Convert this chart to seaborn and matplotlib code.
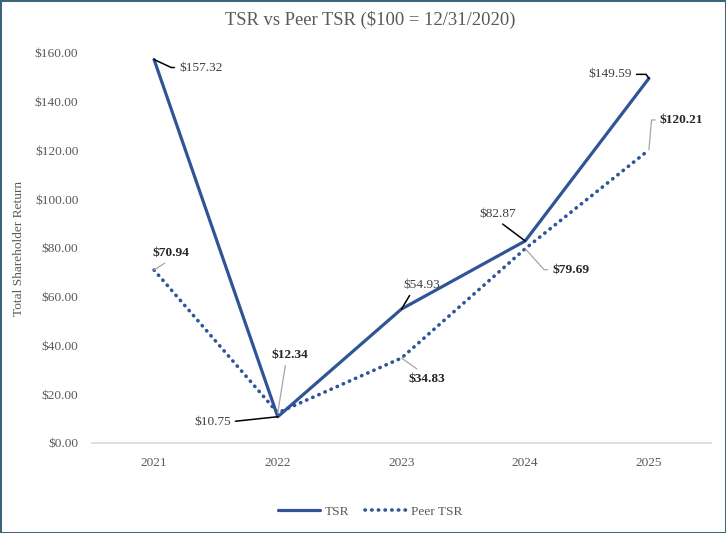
import numpy as np
import pandas as pd
import matplotlib
matplotlib.use("Agg")
import matplotlib.pyplot as plt
import seaborn as sns
from matplotlib.patches import Rectangle

years = ["2021", "2022", "2023", "2024", "2025"]
tsr = [157.32, 10.75, 54.93, 82.87, 149.59]
peer = [70.94, 12.34, 34.83, 79.69, 120.21]
yticks = [0, 20, 40, 60, 80, 100, 120, 140, 160]

sns.set_theme(style="white")
plt.rcParams["font.family"] = ["Liberation Serif", "DejaVu Serif"]

blue = "#2F5597"
grey_txt = "#595959"

df = pd.DataFrame({"Year": years * 2,
                   "Value": tsr + peer,
                   "Series": ["TSR"] * 5 + ["Peer TSR"] * 5})

fig = plt.figure(figsize=(7.26, 5.33), dpi=100)
ax = fig.add_axes([0.127, 0.169, 0.852, 0.7316])

sns.lineplot(data=df[df.Series == "TSR"], x="Year", y="Value", ax=ax,
             color=blue, linewidth=2.3, label="TSR", sort=False)
sns.lineplot(data=df[df.Series == "Peer TSR"], x="Year", y="Value", ax=ax,
             color=blue, linewidth=2.6, label="Peer TSR", sort=False,
             dashes=False)
peer_line = ax.get_lines()[1]
peer_line.set_dashes([0.1, 1.75])
peer_line.set_dash_capstyle("round")

ax.set_xlim(-0.5, 4.5)
ax.set_ylim(0, 160)
ax.set_yticks(yticks)
ax.set_yticklabels(["${:.2f}".format(v) for v in yticks])
ax.tick_params(axis="both", length=0, labelsize=9.6, colors=grey_txt)
ax.tick_params(axis="x", pad=10)
ax.tick_params(axis="y", pad=10)
ax.set_xlabel("")
ax.set_ylabel("Total Shareholder Return", fontsize=9.6, color=grey_txt, labelpad=7)
for s in ["top", "right", "left"]:
    ax.spines[s].set_visible(False)
ax.spines["bottom"].set_color("#D9D9D9")
ax.spines["bottom"].set_linewidth(1.2)
ax.grid(False)

fig.text(0.51, 0.963, "TSR vs Peer TSR ($100 = 12/31/2020)", ha="center", va="center",
         fontsize=13.4, color=grey_txt)

px = 0.72
# (series index, year index, dx px, dy px, ha, relpos, connection)
labels = [
    (0, 0, 25, -8, "left", (0, 0.5), "angle,angleA=0,angleB=-25"),
    (0, 1, -47, -5, "right", (1, 0.5), "arc3"),
    (0, 2, 20, 24, "center", (0.25, 0), "arc3"),
    (0, 3, -28, 27, "center", (0.5, 0), "arc3"),
    (0, 4, -17, 4, "right", (1, 0.5), "angle,angleA=0,angleB=-55"),
    (1, 0, 17, 17, "center", (0.5, 0), "arc3"),
    (1, 1, 12, 58, "center", (0.4, 0), "arc3"),
    (1, 2, 25, -21, "center", (0.4, 1), "arc3"),
    (1, 3, 27, -21, "left", (0, 0.5), "angle,angleA=0,angleB=-48"),
    (1, 4, 11, 30, "left", (0, 0.5), "angle,angleA=0,angleB=85"),
]
for si, yi, dx, dy, ha, rp, cs in labels:
    val = tsr[yi] if si == 0 else peer[yi]
    bold = si == 1
    ax.annotate("${:.2f}".format(val), xy=(yi, val),
                xytext=(dx * px, dy * px), textcoords="offset points",
                ha=ha, va="center", fontsize=9.6,
                fontweight="bold" if bold else "normal",
                color="#262626" if bold else "#404040",
                arrowprops=dict(arrowstyle="-", color="#A6A6A6" if bold else "black",
                                lw=0.9 if bold else 1.1, shrinkA=1, shrinkB=0,
                                relpos=rp, connectionstyle=cs))

ax.get_legend().remove()
fig.legend(handles=ax.get_lines()[:2], labels=["TSR", "Peer TSR"],
           loc="center", bbox_to_anchor=(0.51, 0.04), ncol=2, frameon=False,
           fontsize=9.6, handlelength=3.2, columnspacing=1.2, handletextpad=0.3,
           labelcolor=grey_txt)

fig.patches.append(Rectangle((0, 0), 1, 1, transform=fig.transFigure, fill=False,
                             edgecolor="#3B6578", linewidth=2.2))

fig.savefig("out.png", dpi=100)
